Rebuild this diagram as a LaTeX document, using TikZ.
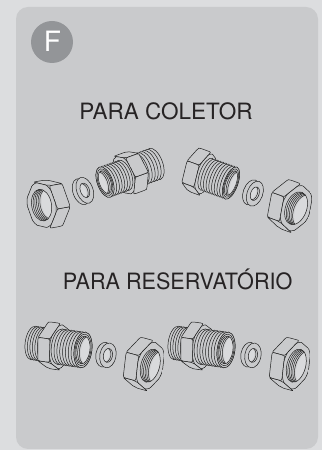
\documentclass[tikz,border=0pt]{standalone}
\usepackage{fontspec}
\setmainfont{TeX Gyre Heros}
\definecolor{outerbg}{HTML}{DCDDDF}
\definecolor{panel}{HTML}{C9CACC}
\definecolor{badge}{HTML}{939598}
\definecolor{ink}{HTML}{1E1E1E}
\definecolor{textink}{HTML}{262324}
\definecolor{borefill}{HTML}{CFD0D2}
\definecolor{borelight}{HTML}{D9DADC}

% Parts are drawn in a local frame: the axis runs along +x (towards the
% viewer end), cross sections are circles squeezed by \kk along x.

% hexagonal body from t=#1 to t=#2, corner radius #3, phase #4, chamfer depth #5
\newcommand{\HexBody}[5]{%
  \pgfmathsetmacro{\hxR}{#3}%
  \pgfmathsetmacro{\hxC}{0.92*#3}%
  \pgfmathsetmacro{\hxF}{acos(cos(30)/0.92)}%
  \foreach \i in {0,...,5}{%
    \pgfmathsetmacro{\ta}{#4+60*\i}%
    \pgfmathsetmacro{\tb}{#4+60*\i+60}%
    \pgfmathsetmacro{\tm}{#4+60*\i+30}%
    \pgfmathsetmacro{\tp}{\tm-\hxF}%
    \pgfmathsetmacro{\tq}{\tm+\hxF}%
    \pgfmathtruncatemacro{\vis}{cos(\tm)>0.01 ? 1 : 0}%
    \ifnum\vis=1
      \path[part] ({#1+#5-\kk*\hxR*cos(\ta)},{\hxR*sin(\ta)})
        .. controls ({#1-\kk*\hxR*cos(\ta)},{\hxR*sin(\ta)}) .. ({#1-\kk*\hxC*cos(\tp)},{\hxC*sin(\tp)})
        -- ({#1-\kk*\hxC*cos(\tq)},{\hxC*sin(\tq)})
        .. controls ({#1-\kk*\hxR*cos(\tb)},{\hxR*sin(\tb)}) .. ({#1+#5-\kk*\hxR*cos(\tb)},{\hxR*sin(\tb)})
        -- ({#2-#5-\kk*\hxR*cos(\tb)},{\hxR*sin(\tb)})
        .. controls ({#2-\kk*\hxR*cos(\tb)},{\hxR*sin(\tb)}) .. ({#2-\kk*\hxC*cos(\tq)},{\hxC*sin(\tq)})
        -- ({#2-\kk*\hxC*cos(\tp)},{\hxC*sin(\tp)})
        .. controls ({#2-\kk*\hxR*cos(\ta)},{\hxR*sin(\ta)}) .. ({#2-#5-\kk*\hxR*cos(\ta)},{\hxR*sin(\ta)})
        -- cycle;
    \fi
  }%
  \begin{scope}[shift={(#2,0)}, xscale=-\kk]
    \begin{scope}
      \clip ({#4}:\hxR) -- ({#4+60}:\hxR) -- ({#4+120}:\hxR) -- ({#4+180}:\hxR)
        -- ({#4+240}:\hxR) -- ({#4+300}:\hxR) -- cycle;
      \path[part] (0,0) circle (\hxC);
    \end{scope}
    \begin{scope}
      \clip (0,0) circle (\hxC);
      \draw[partline] ({#4}:\hxR) -- ({#4+60}:\hxR) -- ({#4+120}:\hxR) -- ({#4+180}:\hxR)
        -- ({#4+240}:\hxR) -- ({#4+300}:\hxR) -- cycle;
    \end{scope}
  \end{scope}%
}

% external thread: #3 crests between t=#1 and t=#2, radius #4
\newcommand{\ThreadRun}[4]{%
  \pgfmathsetmacro{\trx}{\kk*#4}%
  \foreach \j in {0,...,#3}{%
    \pgfmathsetmacro{\tj}{#1+(#2-#1)*\j/#3}%
    \path[part] (\tj,0) ellipse [x radius=\trx, y radius=#4];
  }%
}

% threaded bore at t=#1, radius #2, thread lines shifted towards #3 (+1/-1), #4 lines
\newcommand{\BoreHole}[4]{%
  \pgfmathsetmacro{\brx}{\kk*#2}%
  \path[fill=borefill] (#1,0) ellipse [x radius=\brx, y radius=#2];
  \begin{scope}
    \clip (#1,0) ellipse [x radius=\brx, y radius=#2];
    \pgfmathsetmacro{\bl}{#1+#3*(#4+1)*1.7}%
    \path[fill=borelight] (\bl,0) ellipse [x radius=\brx, y radius=#2];
    \foreach \j in {1,...,#4}{%
      \pgfmathsetmacro{\bs}{#1+#3*\j*1.7}%
      \draw[partline] (\bs,0) ellipse [x radius=\brx, y radius=#2];
    }%
  \end{scope}
  \draw[partline] (#1,0) ellipse [x radius=\brx, y radius=#2];
}

% flat end face of a threaded spigot
\newcommand{\FaceDisk}[4]{%
  \pgfmathsetmacro{\frx}{\kk*#2}%
  \pgfmathsetmacro{\fri}{\kk*(#2-2)}%
  \pgfmathsetmacro{\fry}{#2-2}%
  \path[part] (#1,0) ellipse [x radius=\frx, y radius=#2];
  \draw[partline] (#1,0) ellipse [x radius=\fri, y radius=\fry];
  \BoreHole{#1}{#3}{#4}{2}%
}

% compression ring: radius #1, width #2, hole #3
\newcommand{\OliveRing}[3]{%
  \pgfmathsetmacro{\orx}{\kk*#1}%
  \path[part] (0,0) ellipse [x radius=\orx, y radius=#1];
  \path[part] (#2,0) ellipse [x radius=\orx, y radius=#1];
  \BoreHole{#2}{#3}{-1}{1}%
}

% hexagon nut: radius #1, thickness #2, bore #3, phase #4, thread side #5
\newcommand{\NutPart}[5]{%
  \HexBody{0}{#2}{#1}{#4}{3}%
  \BoreHole{#2}{#3}{#5}{5}%
}

% double male nipple
\newcommand{\NippleBody}[7]{% back r, hex from, hex to, hex R, front r, end, phase
  \ThreadRun{0}{#2}{6}{#1}%
  \HexBody{#2}{#3}{#4}{#7}{2.5}%
  \ThreadRun{#3}{#6}{7}{#5}%
  \FaceDisk{#6}{#5}{#5-4}{1}%
}

\begin{document}
\begin{tikzpicture}[x=1pt,y=1pt,
  part/.style={draw=ink, fill=panel, line width=0.5pt, line join=round},
  partline/.style={draw=ink, line width=0.5pt, line join=round},
  caption/.style={text=textink, font=\fontsize{22.5}{26}\selectfont, inner sep=0pt, anchor=base}]

% background and card
\fill[outerbg] (0,0) rectangle (322,450);
\fill[panel, rounded corners=12pt] (16,1) rectangle (318,443);

% letter badge
\fill[badge] (52,408) circle (21);
\node[text=white, font=\fontsize{28}{30}\selectfont, inner sep=0pt, anchor=base] (badgeF) at (52.5,398) {F};

% headings
\node[caption] (hcol) at (166,330) {PARA COLETOR};
\node[caption] (hres) at (177.7,160) {\scalebox{0.96}[1]{PARA RESERVATÓRIO}};

% ---- upper row: collector fittings ----
\begin{scope}[shift={(54.4,247.1)}, rotate=190]
  \def\kk{0.62}
  \NutPart{25}{13}{16}{15}{-1}
\end{scope}

\begin{scope}[shift={(81.1,258.3)}, rotate=20]
  \def\kk{0.6}
  \OliveRing{13.5}{4}{7.5}
\end{scope}

\begin{scope}[shift={(154.8,286)}, rotate=200]
  \def\kk{0.48}
  \ThreadRun{0}{19}{6}{16.5}
  \HexBody{19}{33}{22}{15}{2.5}
  \ThreadRun{33}{53}{7}{16}
  \FaceDisk{53}{16}{12}{1}
\end{scope}

\begin{scope}[shift={(193.4,280.6)}, rotate=-20]
  \def\kk{0.4}
  \HexBody{0}{13}{23}{15}{3}
  \ThreadRun{14}{40}{9}{17}
  \FaceDisk{40}{17}{13}{1}
\end{scope}

\begin{scope}[shift={(251.1,257.7)}, rotate=-20]
  \def\kk{0.6}
  \OliveRing{13}{4}{7}
\end{scope}

\begin{scope}[shift={(283.9,246.2)}, rotate=-20]
  \def\kk{0.62}
  \NutPart{25.5}{13}{17}{15}{1}
\end{scope}

% ---- lower row: tank fittings ----
\begin{scope}[shift={(33.5,107)}, rotate=-8]
  \def\kk{0.49}
  \ThreadRun{0}{15}{6}{17}
  \HexBody{15}{27}{24}{15}{2.5}
  \ThreadRun{27}{50}{8}{18}
  \FaceDisk{50}{18}{14}{1}
\end{scope}

\begin{scope}[shift={(104,95.3)}, rotate=-10]
  \def\kk{0.65}
  \OliveRing{12.5}{4}{7}
\end{scope}

\begin{scope}[shift={(137.7,87.7)}, rotate=-15]
  \def\kk{0.55}
  \NutPart{26}{13}{17}{15}{1}
\end{scope}

\begin{scope}[shift={(176.5,107)}, rotate=-8]
  \def\kk{0.49}
  \ThreadRun{0}{15}{6}{17}
  \HexBody{15}{27}{24}{15}{2.5}
  \ThreadRun{27}{50}{8}{18}
  \FaceDisk{50}{18}{14}{1}
\end{scope}

\begin{scope}[shift={(249,95.3)}, rotate=-10]
  \def\kk{0.65}
  \OliveRing{12.5}{4}{7}
\end{scope}

\begin{scope}[shift={(283.7,87.7)}, rotate=-15]
  \def\kk{0.55}
  \NutPart{26}{13}{17}{15}{1}
\end{scope}

\end{tikzpicture}
\end{document}
